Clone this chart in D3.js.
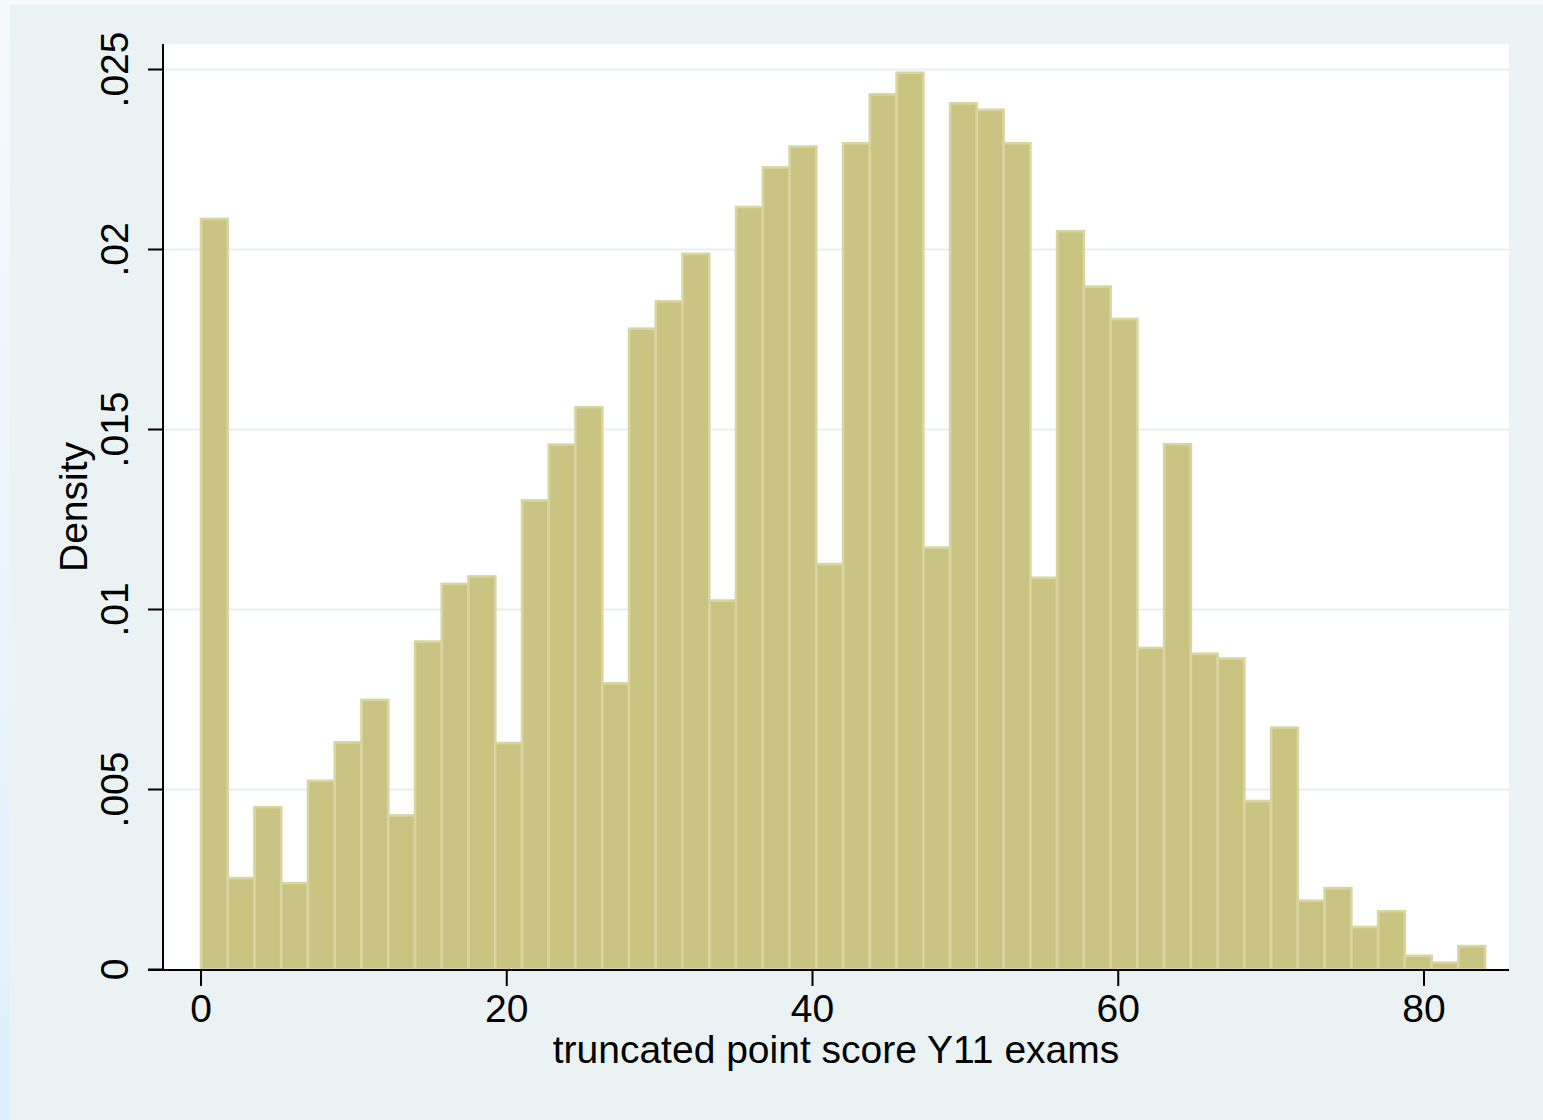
<!DOCTYPE html>
<html>
<head>
<meta charset="utf-8">
<script src="https://cdn.jsdelivr.net/npm/d3@7"></script>
<style>
  body { margin: 0; background: #eaf2f3; }
  svg { display: block; }
  text { font-family: "Liberation Sans", Arial, Helvetica, sans-serif; fill: #000; }
</style>
</head>
<body>
<svg width="1543" height="1120"></svg>
<script>
// histogram of truncated point score, bins of width 1.75 starting at 0
const binWidth = 1.75;
const densities = [
  .02085, .00254, .00451, .00240, .00524, .00631, .00749, .00428,
  .00911, .01071, .01092, .00629, .01303, .01458, .01562, .00795,
  .01780, .01856, .01988, .01025, .02118, .02228, .02286, .01126,
  .02295, .02431, .02491, .01172, .02406, .02388, .02295, .01088,
  .02051, .01897, .01807, .00893, .01459, .00877, .00864, .00468,
  .00672, .00191, .00226, .00118, .00162, .00038, .00019, .00065
];
const xTicks = [0, 20, 40, 60, 80];
const yTicks = [0, .005, .01, .015, .02, .025];
const yTickLabels = ["0", ".005", ".01", ".015", ".02", ".025"];
const xTitle = "truncated point score Y11 exams";
const yTitle = "Density";

const svg = d3.select("svg"),
    width = +svg.attr("width"),
    height = +svg.attr("height");

const plot = {left: 163, right: 1509, top: 44, bottom: 970};
const fontSize = "39px";

const x = d3.scaleLinear().domain([0, 80]).range([201, 1424]);
const y = d3.scaleLinear().domain([0, .025]).range([969.5, 69.5]);

const bins = densities.map((d, i) => ({x0: i * binWidth, x1: (i + 1) * binWidth, v: d}));

// outer background with the lighter border strips
const grad = svg.append("defs").append("linearGradient")
    .attr("id", "edge").attr("x1", 0).attr("y1", 0).attr("x2", 0).attr("y2", 1);
grad.append("stop").attr("offset", "0%").attr("stop-color", "#f6fafc");
grad.append("stop").attr("offset", "100%").attr("stop-color", "#ddeffd");

svg.append("rect").attr("width", width).attr("height", height).attr("fill", "#eaf2f3");
svg.append("rect").attr("width", width).attr("height", 5).attr("fill", "#f6fafc");
svg.append("rect").attr("width", 10).attr("height", height).attr("fill", "url(#edge)");

svg.append("rect")
    .attr("x", plot.left).attr("y", plot.top)
    .attr("width", plot.right - plot.left).attr("height", plot.bottom - plot.top)
    .attr("fill", "#fff");

// gridlines
svg.append("g")
    .selectAll("line")
    .data(yTicks.filter(d => d > 0))
    .enter().append("line")
    .attr("x1", plot.left).attr("x2", plot.right)
    .attr("y1", d => y(d)).attr("y2", d => y(d))
    .attr("stroke", "#e6eff1")
    .attr("stroke-width", 2);

// bars
svg.append("g")
    .selectAll("rect")
    .data(bins)
    .enter().append("rect")
    .attr("x", d => x(d.x0))
    .attr("y", d => y(d.v))
    .attr("width", d => x(d.x1) - x(d.x0))
    .attr("height", d => y(0) - y(d.v))
    .attr("fill", "#cac482")
    .attr("stroke", "#dad5a0")
    .attr("stroke-width", 2.6);

// y axis
const yAxis = svg.append("g").attr("transform", "translate(" + plot.left + ",0)");
yAxis.append("line")
    .attr("x1", 0).attr("x2", 0)
    .attr("y1", plot.top).attr("y2", plot.bottom + 1)
    .attr("stroke", "#000").attr("stroke-width", 2);
const yt = yAxis.selectAll("g.tick")
    .data(yTicks)
    .enter().append("g")
    .attr("class", "tick")
    .attr("transform", d => "translate(0," + y(d) + ")");
yt.append("line")
    .attr("x1", -15).attr("x2", 0)
    .attr("stroke", "#000").attr("stroke-width", 2);
yt.append("text")
    .attr("transform", "translate(-35,0) rotate(-90)")
    .attr("text-anchor", "middle")
    .style("font-size", fontSize)
    .text((d, i) => yTickLabels[i]);

// x axis
const xAxis = svg.append("g").attr("transform", "translate(0," + plot.bottom + ")");
xAxis.append("line")
    .attr("x1", plot.left - 15).attr("x2", plot.right)
    .attr("stroke", "#000").attr("stroke-width", 2);
const xt = xAxis.selectAll("g.tick")
    .data(xTicks)
    .enter().append("g")
    .attr("class", "tick")
    .attr("transform", d => "translate(" + x(d) + ",0)");
xt.append("line")
    .attr("y1", 0).attr("y2", 16)
    .attr("stroke", "#000").attr("stroke-width", 2);
xt.append("text")
    .attr("y", 52)
    .attr("text-anchor", "middle")
    .style("font-size", fontSize)
    .text(d => d);

// axis titles
svg.append("text")
    .attr("x", (plot.left + plot.right) / 2)
    .attr("y", 1063)
    .attr("text-anchor", "middle")
    .style("font-size", fontSize)
    .text(xTitle);

svg.append("text")
    .attr("transform", "translate(87," + (plot.top + plot.bottom) / 2 + ") rotate(-90)")
    .attr("text-anchor", "middle")
    .style("font-size", fontSize)
    .text(yTitle);
</script>
</body>
</html>
